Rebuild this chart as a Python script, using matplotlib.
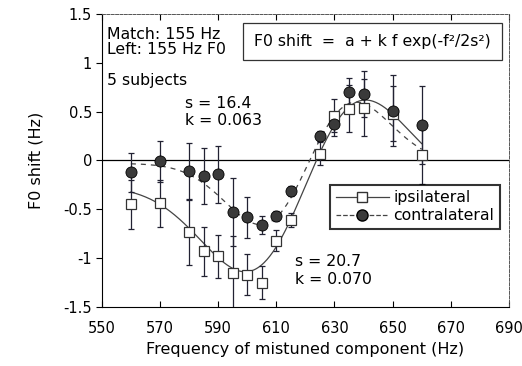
import numpy as np
import matplotlib
matplotlib.use('Agg')
import matplotlib.pyplot as plt
from matplotlib.lines import Line2D

# frequencies of the mistuned component (Hz)
freq = [560, 570, 580, 585, 590, 595, 600, 605, 610, 615, 625, 630, 635, 640, 650, 660]

# ipsilateral: mean F0 shift and error
ipsi = [-0.45, -0.44, -0.73, -0.93, -0.98, -1.15, -1.17, -1.25, -0.82, -0.61,
        0.07, 0.46, 0.53, 0.54, 0.48, 0.06]
ipsi_err = [0.25, 0.24, 0.34, 0.25, 0.22, 0.38, 0.21, 0.17, 0.11, 0.07,
            0.12, 0.17, 0.24, 0.29, 0.28, 0.30]

# contralateral
contra = [-0.12, -0.01, -0.11, -0.16, -0.14, -0.53, -0.58, -0.66, -0.57, -0.31,
          0.25, 0.37, 0.70, 0.68, 0.51, 0.36]
contra_err = [0.20, 0.21, 0.29, 0.29, 0.29, 0.35, 0.21, 0.09, 0.05, 0.05,
              0.05, 0.12, 0.14, 0.24, 0.36, 0.40]

# fit parameters: F0 shift = a + k f exp(-f^2/2s^2), f = freq - f0
ipsi_fit = dict(a=-0.26, k=0.070, s=20.7, f0=620)
contra_fit = dict(a=-0.03, k=0.063, s=16.4, f0=621)

def fit_curve(fr, a, k, s, f0):
    f = fr - f0
    return a + k * f * np.exp(-f**2 / (2 * s**2))

plt.rcParams['font.family'] = ['DejaVu Sans']
fig = plt.figure(figsize=(5.22, 3.66), dpi=100)
ax = fig.add_axes([0.195, 0.161, 0.78, 0.801])

ff = np.linspace(560, 660, 300)
ax.axhline(0, color='black', lw=0.9, zorder=1)
ax.plot(ff, fit_curve(ff, **ipsi_fit), '-', color='#444444', lw=0.9, zorder=2)
ax.plot(ff, fit_curve(ff, **contra_fit), '--', color='#444444', lw=0.9,
        dashes=(4, 4), zorder=2)

ax.errorbar(freq, ipsi, yerr=ipsi_err, fmt='none', ecolor='#222233',
            elinewidth=0.9, capsize=2.5, capthick=0.9, zorder=3)
ax.errorbar(freq, contra, yerr=contra_err, fmt='none', ecolor='#222233',
            elinewidth=0.9, capsize=2.5, capthick=0.9, zorder=3)
ax.plot(freq, ipsi, 's', ms=7.5, mfc='white', mec='#333333', mew=0.9, zorder=4)
ax.plot(freq, contra, 'o', ms=8, mfc='#3a3a3a', mec='black', mew=0.6, zorder=5)

ax.set_xlim(550, 690)
ax.set_ylim(-1.5, 1.5)
ax.set_xticks(np.arange(550, 691, 20))
ax.set_yticks([-1.5, -1, -0.5, 0, 0.5, 1, 1.5])
ax.set_yticklabels(['-1.5', '-1', '-0.5', '0', '0.5', '1', '1.5'])
ax.tick_params(axis='x', direction='in', top=True, length=4, labelsize=10.5, pad=10)
ax.tick_params(axis='y', direction='out', length=4, labelsize=10.5, pad=3)
for sp in ['top', 'right']:
    ax.spines[sp].set_linestyle((0, (3, 1.5)))
    ax.spines[sp].set_color('#555555')
    ax.spines[sp].set_linewidth(0.7)

ax.set_xlabel('Frequency of mistuned component (Hz)', fontsize=11.5, labelpad=4)
ax.set_ylabel('F0 shift (Hz)', fontsize=11.5, labelpad=14)

ax.text(0.012, 0.955, 'Match: 155 Hz\nLeft: 155 Hz F0', transform=ax.transAxes,
        fontsize=11.3, va='top', ha='left', linespacing=1.0)
ax.text(0.012, 0.80, '5 subjects', transform=ax.transAxes, fontsize=11.3,
        va='top', ha='left')
ax.text(0.205, 0.72, 's = 16.4\nk = 0.063', transform=ax.transAxes,
        fontsize=11.3, va='top', ha='left', linespacing=1.2)
ax.text(0.475, 0.18, 's = 20.7\nk = 0.070', transform=ax.transAxes,
        fontsize=11.3, va='top', ha='left', linespacing=1.2)
ax.text(0.664, 0.905, 'F0 shift  =  a + k f exp(-f²/2s²)', transform=ax.transAxes,
        fontsize=11.3, va='center', ha='center',
        bbox=dict(boxstyle='square,pad=0.7', fc='white', ec='#333333', lw=0.9))

handles = [Line2D([], [], ls='-', color='#444444', lw=0.9, marker='s', ms=7,
                  mfc='white', mec='#333333'),
           Line2D([], [], ls='--', color='#444444', lw=0.9, marker='o', ms=8,
                  mfc='#3a3a3a', mec='black')]
leg = ax.legend(handles, ['ipsilateral', 'contralateral'], loc='upper right',
                bbox_to_anchor=(0.978, 0.418), fontsize=11.3, frameon=True,
                fancybox=False, handlelength=3.4, borderpad=0.35,
                labelspacing=0.2, handletextpad=0.3, borderaxespad=0)
leg.get_frame().set_edgecolor('black')
leg.get_frame().set_linewidth(1.5)

fig.savefig('out.png', dpi=100)
